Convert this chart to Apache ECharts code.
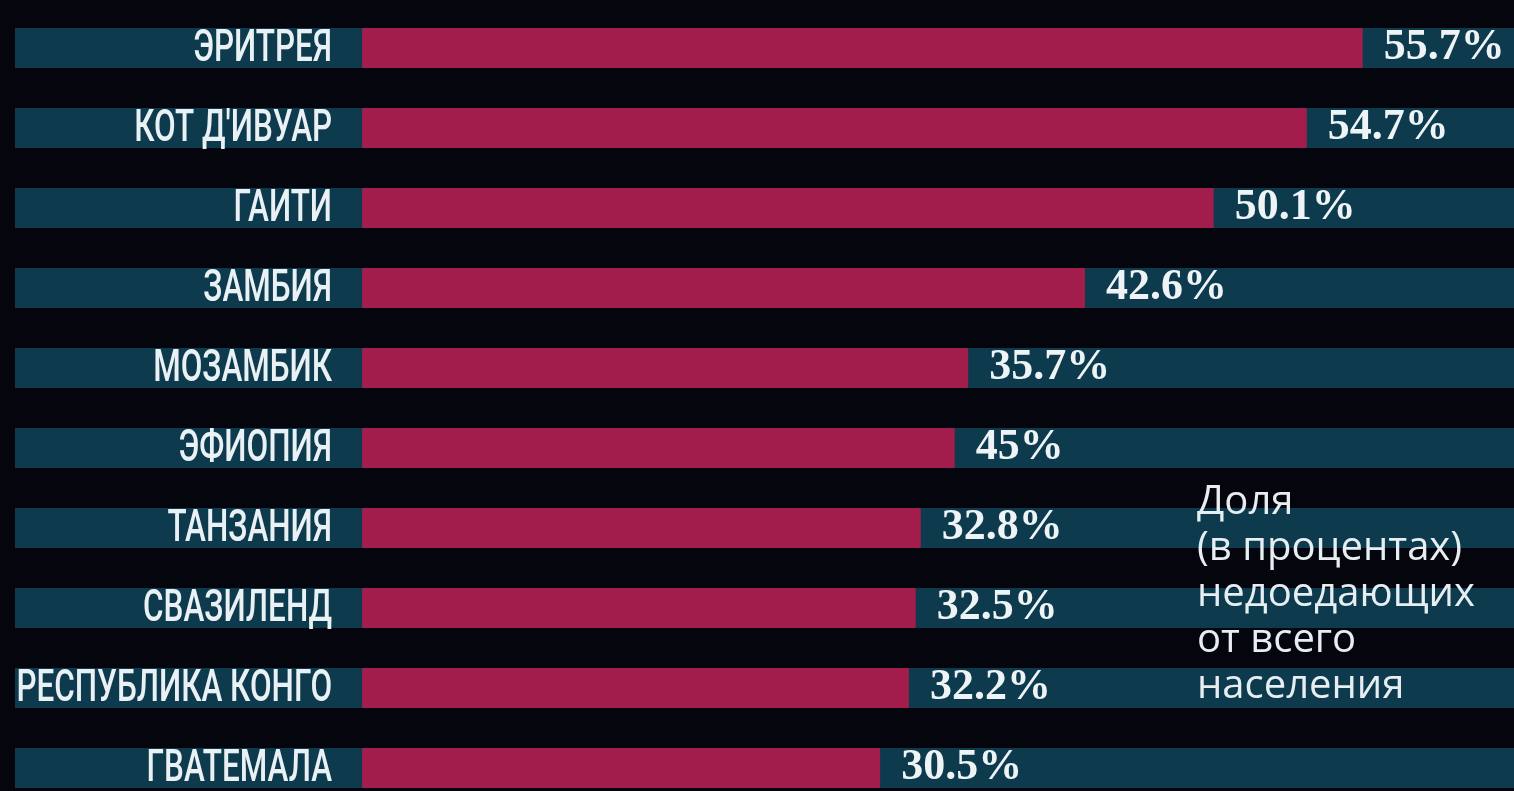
<!DOCTYPE html>
<html>
<head>
<meta charset="utf-8">
<style>
  html, body { margin: 0; padding: 0; background: #05050d; }
  #chart { width: 1514px; height: 791px; }
</style>
<script src="https://cdn.jsdelivr.net/npm/echarts@6/dist/echarts.min.js"></script>
</head>
<body>
<div id="chart"></div>
<script>
// страны сверху вниз
const countries = ['ЭРИТРЕЯ', "КОТ Д'ИВУАР", 'ГАИТИ', 'ЗАМБИЯ', 'МОЗАМБИК', 'ЭФИОПИЯ', 'ТАНЗАНИЯ', 'СВАЗИЛЕНД', 'РЕСПУБЛИКА КОНГО', 'ГВАТЕМАЛА']
// длина полос, как нарисовано на картинке (в %)
const barValues = [59.1, 55.8, 50.3, 42.7, 35.8, 35.0, 33.0, 32.7, 32.3, 30.6]
// подписи значений, как напечатаны
const valueLabels = ['55.7%', '54.7%', '50.1%', '42.6%', '35.7%', '45%', '32.8%', '32.5%', '32.2%', '30.5%']
const note = ['Доля', '(в процентах)', 'недоедающих', 'от всего', 'населения']

const chart = echarts.init(document.getElementById('chart'))

// узкий шрифт подписей стран — сжимаем обычный по горизонтали
function renderCountry(params, api) {
  const p = api.coord([0, api.value(1)])
  return {
    type: 'text',
    x: p[0] - 30,
    y: p[1] + 2,
    scaleX: 0.715,
    style: {
      text: countries[params.dataIndex],
      textAlign: 'right',
      textVerticalAlign: 'middle',
      fill: '#e9f1f4',
      font: '500 44px Roboto'
    }
  }
}

chart.setOption({
  backgroundColor: '#05050d',
  animation: false,
  grid: { left: 15, top: 8, width: 1499, height: 800, outerBoundsMode: 'none' },
  xAxis: {
    type: 'value',
    min: -20.5,
    max: 68.04,
    show: false
  },
  yAxis: {
    type: 'category',
    inverse: true,
    data: countries,
    axisLine: { show: false },
    axisTick: { show: false },
    axisLabel: { show: false }
  },
  series: [{
    type: 'bar',
    data: barValues,
    barWidth: 40,
    showBackground: true,
    backgroundStyle: { color: '#0e3a4e' },
    itemStyle: { color: '#a31d4c' },
    label: {
      show: true,
      position: 'right',
      distance: 21,
      color: '#eef3f5',
      fontFamily: 'Liberation Serif',
      fontWeight: 'bold',
      fontSize: 44,
      formatter: p => valueLabels[p.dataIndex]
    }
  }, {
    type: 'custom',
    data: countries.map((c, i) => [0, i]),
    encode: { x: 0, y: 1 },
    renderItem: renderCountry,
    z: 5
  }],
  graphic: [{
    type: 'text',
    left: 1197,
    top: 480,
    z: 10,
    style: {
      text: note.join('\n'),
      fill: '#e6eef2',
      font: '40px "Open Sans"',
      lineHeight: 46
    }
  }]
})
</script>
</body>
</html>
